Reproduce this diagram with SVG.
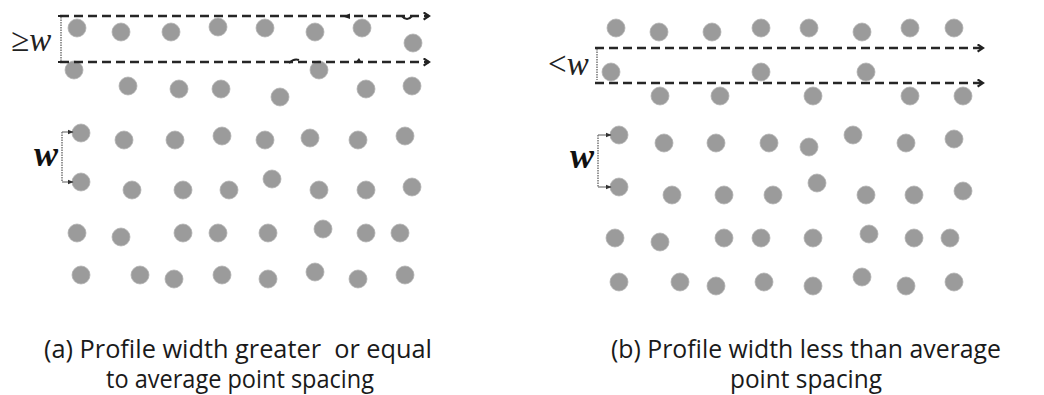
<svg xmlns="http://www.w3.org/2000/svg" width="1044" height="395" viewBox="0 0 1044 395">
<style>
.dot{fill:#9b9b9b;stroke:#b3b3b3;stroke-width:0.8}
.dash{stroke:#262626;stroke-width:2.4;stroke-dasharray:9 5;fill:none}
.brk{stroke:#777;stroke-width:1.5;stroke-dasharray:1.5 1;fill:none}
.mk{fill:#222}
.cap{font-family:"Open Sans","Liberation Sans",sans-serif;font-size:25px;fill:#1a1a1a;text-anchor:middle;white-space:pre}
.wb{font-family:"Liberation Serif",serif;font-style:italic;font-weight:bold;font-size:36px;fill:#111}
.wl{font-family:"Liberation Serif",serif;font-size:33px;fill:#222}
</style>
<defs>
<marker id="chev" viewBox="0 0 10 10" refX="8" refY="5" markerWidth="9" markerHeight="9" markerUnits="userSpaceOnUse" orient="auto">
<path d="M2,1 L8,5 L2,9" fill="none" stroke="#222" stroke-width="2.4"/>
</marker>
<marker id="tip" viewBox="0 0 10 10" refX="9" refY="5" markerWidth="6" markerHeight="6" markerUnits="userSpaceOnUse" orient="auto">
<path d="M0,1 L10,5 L0,9 Z" fill="#333"/>
</marker>
</defs>
<rect width="1044" height="395" fill="#fff"/>

<g id="panel-a-dots">
<circle class="dot" cx="77" cy="28" r="9"/><circle class="dot" cx="121" cy="32" r="9"/><circle class="dot" cx="171" cy="32" r="9"/><circle class="dot" cx="218" cy="27" r="9"/><circle class="dot" cx="265" cy="28" r="9"/><circle class="dot" cx="315" cy="32" r="9"/><circle class="dot" cx="362" cy="28" r="9"/><circle class="dot" cx="413" cy="43" r="9"/>
<circle class="dot" cx="74" cy="70" r="9"/><circle class="dot" cx="128" cy="86" r="9"/><circle class="dot" cx="179" cy="89" r="9"/><circle class="dot" cx="221" cy="89" r="9"/><circle class="dot" cx="280" cy="97" r="9"/><circle class="dot" cx="319" cy="70" r="9"/><circle class="dot" cx="366" cy="89" r="9"/><circle class="dot" cx="412" cy="86" r="9"/>
<circle class="dot" cx="81" cy="133" r="9"/><circle class="dot" cx="124" cy="140" r="9"/><circle class="dot" cx="175" cy="140" r="9"/><circle class="dot" cx="222" cy="136" r="9"/><circle class="dot" cx="265" cy="140" r="9"/><circle class="dot" cx="310" cy="138" r="9"/><circle class="dot" cx="358" cy="140" r="9"/><circle class="dot" cx="405" cy="136" r="9"/>
<circle class="dot" cx="81" cy="182" r="9"/><circle class="dot" cx="132" cy="190" r="9"/><circle class="dot" cx="183" cy="190" r="9"/><circle class="dot" cx="229" cy="190" r="9"/><circle class="dot" cx="272" cy="179" r="9"/><circle class="dot" cx="319" cy="190" r="9"/><circle class="dot" cx="366" cy="190" r="9"/><circle class="dot" cx="412" cy="187" r="9"/>
<circle class="dot" cx="77" cy="233" r="9"/><circle class="dot" cx="121" cy="237" r="9"/><circle class="dot" cx="183" cy="233" r="9"/><circle class="dot" cx="218" cy="233" r="9"/><circle class="dot" cx="268" cy="233" r="9"/><circle class="dot" cx="323" cy="229" r="9"/><circle class="dot" cx="366" cy="233" r="9"/><circle class="dot" cx="400" cy="233" r="9"/>
<circle class="dot" cx="81" cy="275" r="9"/><circle class="dot" cx="140" cy="275" r="9"/><circle class="dot" cx="174" cy="279" r="9"/><circle class="dot" cx="222" cy="275" r="9"/><circle class="dot" cx="268" cy="279" r="9"/><circle class="dot" cx="315" cy="272" r="9"/><circle class="dot" cx="358" cy="279" r="9"/><circle class="dot" cx="405" cy="275" r="9"/>
</g>

<g id="panel-b-dots">
<circle class="dot" cx="616" cy="28" r="9"/><circle class="dot" cx="659" cy="32" r="9"/><circle class="dot" cx="712" cy="32" r="9"/><circle class="dot" cx="761" cy="28" r="9"/><circle class="dot" cx="809" cy="28" r="9"/><circle class="dot" cx="862" cy="32" r="9"/><circle class="dot" cx="910" cy="28" r="9"/><circle class="dot" cx="954" cy="28" r="9"/>
<circle class="dot" cx="611" cy="72" r="9"/><circle class="dot" cx="761" cy="72" r="9"/><circle class="dot" cx="866" cy="72" r="9"/>
<circle class="dot" cx="660" cy="96" r="9"/><circle class="dot" cx="720" cy="96" r="9"/><circle class="dot" cx="813" cy="96" r="9"/><circle class="dot" cx="910" cy="96" r="9"/><circle class="dot" cx="963" cy="96" r="9"/>
<circle class="dot" cx="619" cy="135" r="9"/><circle class="dot" cx="664" cy="143" r="9"/><circle class="dot" cx="716" cy="143" r="9"/><circle class="dot" cx="769" cy="143" r="9"/><circle class="dot" cx="809" cy="147" r="9"/><circle class="dot" cx="853" cy="135" r="9"/><circle class="dot" cx="906" cy="143" r="9"/><circle class="dot" cx="954" cy="139" r="9"/>
<circle class="dot" cx="619" cy="187" r="9"/><circle class="dot" cx="672" cy="195" r="9"/><circle class="dot" cx="724" cy="195" r="9"/><circle class="dot" cx="773" cy="195" r="9"/><circle class="dot" cx="817" cy="183" r="9"/><circle class="dot" cx="866" cy="195" r="9"/><circle class="dot" cx="914" cy="195" r="9"/><circle class="dot" cx="963" cy="191" r="9"/>
<circle class="dot" cx="615" cy="238" r="9"/><circle class="dot" cx="660" cy="242" r="9"/><circle class="dot" cx="724" cy="238" r="9"/><circle class="dot" cx="761" cy="238" r="9"/><circle class="dot" cx="813" cy="238" r="9"/><circle class="dot" cx="869" cy="234" r="9"/><circle class="dot" cx="914" cy="238" r="9"/><circle class="dot" cx="950" cy="238" r="9"/>
<circle class="dot" cx="619" cy="282" r="9"/><circle class="dot" cx="680" cy="282" r="9"/><circle class="dot" cx="716" cy="286" r="9"/><circle class="dot" cx="764" cy="282" r="9"/><circle class="dot" cx="813" cy="286" r="9"/><circle class="dot" cx="862" cy="277" r="9"/><circle class="dot" cx="906" cy="286" r="9"/><circle class="dot" cx="954" cy="282" r="9"/>
</g>

<g id="connectors">
<line class="dash" x1="60" y1="16" x2="429" y2="16" marker-end="url(#chev)"/>
<line class="dash" x1="60" y1="62" x2="429" y2="62" marker-end="url(#chev)"/>
<line class="dash" x1="595" y1="48" x2="983" y2="48" marker-end="url(#chev)"/>
<line class="dash" x1="595" y1="83" x2="983" y2="83" marker-end="url(#chev)"/>
<path class="mk" d="M343,16.5 L350,13.5 L350,19 Z"/>
<path d="M402,16 Q407,22 412,16" fill="none" stroke="#222" stroke-width="2.2"/>
<path d="M289,63 Q294,58 299,60" fill="none" stroke="#222" stroke-width="2"/>
<path class="mk" d="M355,63 L359,58 L362,63 Z"/>
<path class="brk" d="M61,17 V61"/>
<path d="M58,16 h5 M58,62 h5" stroke="#222" stroke-width="2"/>
<path class="brk" d="M597,49 V80"/>
<path class="brk" d="M62,132 V182"/>
<line x1="62" y1="132" x2="73" y2="132" stroke="#777" stroke-width="1.2" marker-end="url(#tip)"/>
<line x1="62" y1="182" x2="73" y2="182" stroke="#777" stroke-width="1.2" marker-end="url(#tip)"/>
<path class="brk" d="M598,135 V187"/>
<line x1="598" y1="135" x2="611" y2="135" stroke="#777" stroke-width="1.2" marker-end="url(#tip)"/>
<line x1="598" y1="187" x2="611" y2="187" stroke="#777" stroke-width="1.2" marker-end="url(#tip)"/>
</g>

<g id="labels">
<text x="11" y="51" class="wl">≥<tspan font-style="italic">w</tspan></text>
<text x="548" y="75" class="wl">&lt;<tspan font-style="italic">w</tspan></text>
<text x="34" y="166" class="wb">w</text>
<text x="570" y="168" class="wb">w</text>
</g>

<g id="captions">
<text class="cap" x="238" y="358" textLength="388" lengthAdjust="spacingAndGlyphs" xml:space="preserve">(a) Profile width greater  or equal</text>
<text class="cap" x="240" y="388" textLength="268" lengthAdjust="spacingAndGlyphs">to average point spacing</text>
<text class="cap" x="806" y="358" textLength="390" lengthAdjust="spacingAndGlyphs">(b) Profile width less than average</text>
<text class="cap" x="806" y="388" textLength="152" lengthAdjust="spacingAndGlyphs">point spacing</text>
</g>
</svg>
